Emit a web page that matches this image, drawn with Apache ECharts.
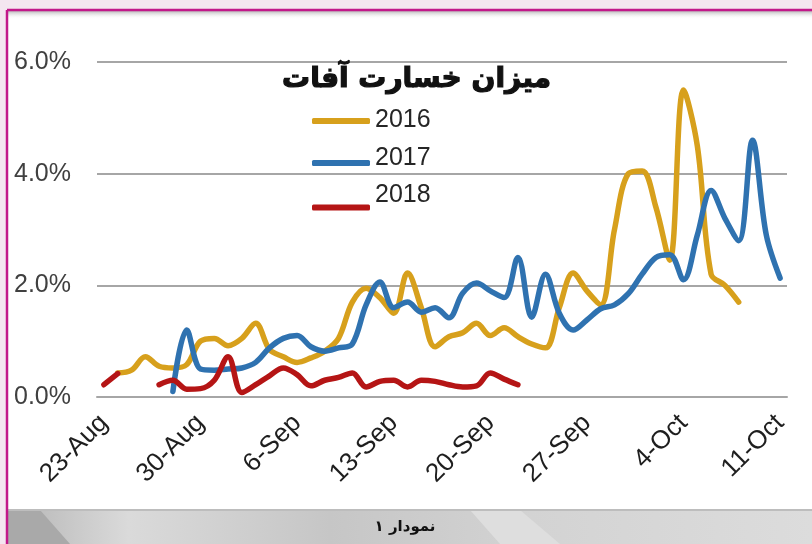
<!DOCTYPE html>
<html><head><meta charset="utf-8">
<script src="https://cdn.jsdelivr.net/npm/echarts@6/dist/echarts.min.js"></script>
<style>html,body{margin:0;padding:0;background:#f4e6f0}#c{width:812px;height:544px}</style>
</head><body><div id="c"></div>
<script>
// x tick labels (one every 7 days, day 0 = 23-Aug)
const tickLabels = ['23-Aug','30-Aug','6-Sep','13-Sep','20-Sep','27-Sep','4-Oct','11-Oct'];
const yTickLabels = ['0.0%','2.0%','4.0%','6.0%'];
const seriesNames = ['2016','2017','2018'];
const seriesColors = ['#d7a01c','#2f72b0','#b51515'];
const titleText = 'میزان خسارت آفات';
const captionText = 'نمودار ۱';
// daily pest-loss values (%), index = day from 23-Aug
const loss2016 = [null,0.43,0.48,0.72,0.55,0.52,0.58,1.0,1.05,0.92,
  1.05,1.32,0.85,0.72,0.62,0.7,0.82,1.05,1.7,1.95,
  1.78,1.5,2.22,1.6,0.9,1.08,1.15,1.32,1.1,1.24,
  1.08,0.95,0.88,1.6,2.22,1.9,1.65,3.0,4.0,4.05,
  3.4,2.45,5.5,4.5,2.2,2.0,1.7,null,null,null];
const loss2017 = [null,null,null,null,null,0.1,1.2,0.5,0.48,0.5,
  0.52,0.62,0.88,1.05,1.1,0.9,0.82,0.88,0.95,1.65,
  2.06,1.6,1.7,1.52,1.6,1.42,1.86,2.04,1.9,1.78,
  2.5,1.43,2.2,1.5,1.2,1.38,1.58,1.65,1.85,2.2,
  2.5,2.55,2.1,2.9,3.7,3.2,2.8,4.6,2.9,2.13];
const loss2018 = [0.22,0.42,null,null,0.22,0.3,0.14,0.15,0.3,0.72,
  0.08,0.22,0.38,0.52,0.4,0.2,0.3,0.35,0.43,0.18,
  0.28,0.3,0.18,0.3,0.28,0.22,0.18,0.2,0.43,0.32,
  0.22,null,null,null,null,null,null,null,null,null,
  null,null,null,null,null,null,null,null,null,null];
const allSeries = [loss2016, loss2017, loss2018];

const chart = echarts.init(document.getElementById('c'), null, {renderer:'canvas'});
const legendPos = [{top:107.5, pb:2},{top:145.5, pb:10},{top:183, pb:24}];
const option = {
  animation:false,
  backgroundColor:'#f4e6f0',
  title:{text:titleText, left:282, top:66, padding:0,
    textStyle:{fontFamily:'DejaVu Sans', fontWeight:'bold', fontSize:28, color:'#111',
      textBorderColor:'#111', textBorderWidth:1.2}},
  legend: seriesNames.map((n,i)=>({
    data:[n], orient:'vertical', left:312, top:legendPos[i].top, padding:0,
    icon:'roundRect', itemWidth:58, itemHeight:6, selectedMode:false,
    itemStyle:{color:seriesColors[i]},
    formatter:'{t|{name}}',
    textStyle:{fontFamily:'Liberation Sans', fontSize:25, color:'#262626',
      rich:{t:{fontFamily:'Liberation Sans', fontSize:25, color:'#262626', padding:[0,0,legendPos[i].pb,0]}}}
  })),
  grid:{left:97, right:25, top:62, bottom:147},
  xAxis:{type:'value', min:-0.5, max:49.5,
    splitLine:{show:false}, axisTick:{show:false},
    axisLine:{show:true, lineStyle:{color:'#a6a6a6', width:2}},
    axisLabel:{customValues:tickLabels.map((_,i)=>i*7),
      formatter:v=>tickLabels[Math.round(v/7)], rotate:45, margin:22,
      fontFamily:'Liberation Sans', fontSize:26, color:'#1e1e1e'}},
  yAxis:{type:'value', min:0, max:6, interval:2,
    axisLine:{show:false}, axisTick:{show:false},
    splitLine:{lineStyle:{color:'#a6a6a6', width:2}},
    axisLabel:{formatter:v=>yTickLabels[Math.round(v/2)], margin:26,
      fontFamily:'Liberation Sans', fontSize:25, color:'#404040'}},
  graphic:[
    {type:'rect', z:-10, shape:{x:8,y:11,width:804,height:500}, style:{fill:'#ffffff'}},
    {type:'rect', z:-9, shape:{x:8,y:11,width:804,height:8},
      style:{fill:new echarts.graphic.LinearGradient(0,0,0,1,[{offset:0,color:'#b9b9b9'},{offset:1,color:'rgba(255,255,255,0)'}])}},
    {type:'rect', z:-10, shape:{x:8,y:510,width:804,height:34},
      style:{fill:new echarts.graphic.LinearGradient(0,0,1,0,[{offset:0,color:'#b5b5b5'},{offset:0.15,color:'#dadada'},{offset:0.4,color:'#c6c6c6'},{offset:0.65,color:'#d3d3d3'},{offset:1,color:'#dcdcdc'}])}},
    {type:'polygon', z:-9, shape:{points:[[8,510],[40,510],[70,544],[8,544]]}, style:{fill:'#a9a9a9'}},
    {type:'polygon', z:-9, shape:{points:[[470,510],[520,510],[560,544],[500,544]]}, style:{fill:'#dedede'}},
    {type:'rect', z:-8, shape:{x:8,y:509,width:804,height:2}, style:{fill:'#bdbdbd'}},
    {type:'line', z:-8, shape:{x1:7,y1:10,x2:812,y2:10}, style:{stroke:'#c2188a', lineWidth:2.5}},
    {type:'line', z:-8, shape:{x1:7,y1:10,x2:7,y2:544}, style:{stroke:'#c2188a', lineWidth:2.5}},
    {type:'text', z:5, x:405, y:527, style:{text:captionText, fontFamily:'DejaVu Sans', fontWeight:'bold', fontSize:15, fill:'#111', align:'center', verticalAlign:'middle'}}
  ],
  series: allSeries.map((arr,i)=>({
    name:seriesNames[i], type:'line', smooth:0.35, symbol:'none', connectNulls:false,
    color:seriesColors[i],
    lineStyle:{width:5.5, color:seriesColors[i], cap:'round', join:'round'},
    data:arr.map((v,d)=>[d, v==null?'-':v])
  }))
};
chart.setOption(option);
</script></body></html>
